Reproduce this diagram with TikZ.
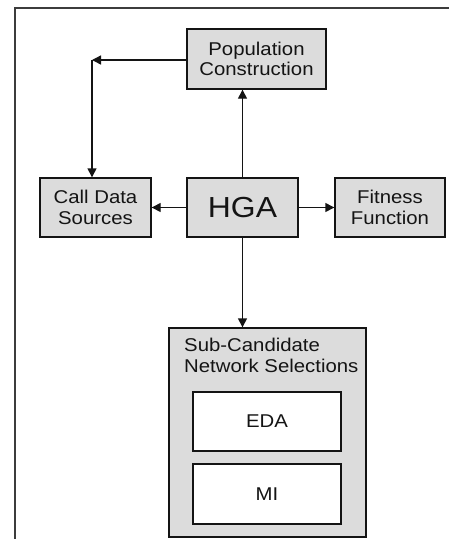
\documentclass[tikz,border=0pt]{standalone}
\usepackage{fontspec}
\usetikzlibrary{arrows.meta}
\newfontfamily\labfont[FakeStretch=1.1]{Liberation Sans}
\definecolor{boxgray}{RGB}{220,220,220}
\definecolor{linegray}{RGB}{60,60,60}
\definecolor{inkcol}{RGB}{20,20,20}
\tikzset{
  pbox/.style={draw=inkcol, line width=1.4pt, fill=boxgray, inner sep=0pt, align=center,
    font=\labfont\fontsize{18.5}{20.5}\selectfont, text=inkcol},
  wbox/.style={pbox, fill=white},
  conn/.style={draw=inkcol, line width=1.4pt, -{Triangle[length=9pt,width=9pt]}},
}
\begin{document}
\begin{tikzpicture}[x=1pt,y=-1pt]
\useasboundingbox (0,0) rectangle (449,539);
\fill[white] (0,0) rectangle (449,539);
\draw[linegray, line width=2pt] (15,539) -- (15,8) -- (449,8);

\node[pbox, minimum width=139pt, minimum height=60pt] (pop) at (256.5,59) {Population\\Construction};
\node[pbox, minimum width=111pt, minimum height=59pt] (call) at (95.5,207.5) {Call Data\\Sources};
\node[pbox, minimum width=111pt, minimum height=59pt, font=\labfont\fontsize{29}{32}\selectfont] (hga) at (242.5,207.5) {HGA};
\node[pbox, minimum width=110pt, minimum height=59pt] (fit) at (390,207.5) {Fitness\\Function};
\node[pbox, minimum width=197pt, minimum height=209pt] (sub) at (267.5,432.5) {};
\node[anchor=north west, inner sep=0pt, align=left, text=inkcol,
  font=\labfont\fontsize{18.5}{20.5}\selectfont] (subtxt) at (184,338) {Sub-Candidate\\Network Selections};
\node[wbox, minimum width=148pt, minimum height=59pt] (eda) at (267,421.5) {EDA};
\node[wbox, minimum width=148pt, minimum height=60pt] (mi) at (267,494) {MI};

\coordinate (corner) at (92,60);
\draw[conn] (hga.north) -- (hga.north |- pop.south);
\draw[conn] (pop.west |- corner) -- (corner);
\draw[conn] (corner) -- (corner |- call.north);
\draw[conn] (hga.west) -- (call.east);
\draw[conn] (hga.east) -- (fit.west);
\draw[conn] (hga.south) -- (hga.south |- sub.north);
\end{tikzpicture}
\end{document}
